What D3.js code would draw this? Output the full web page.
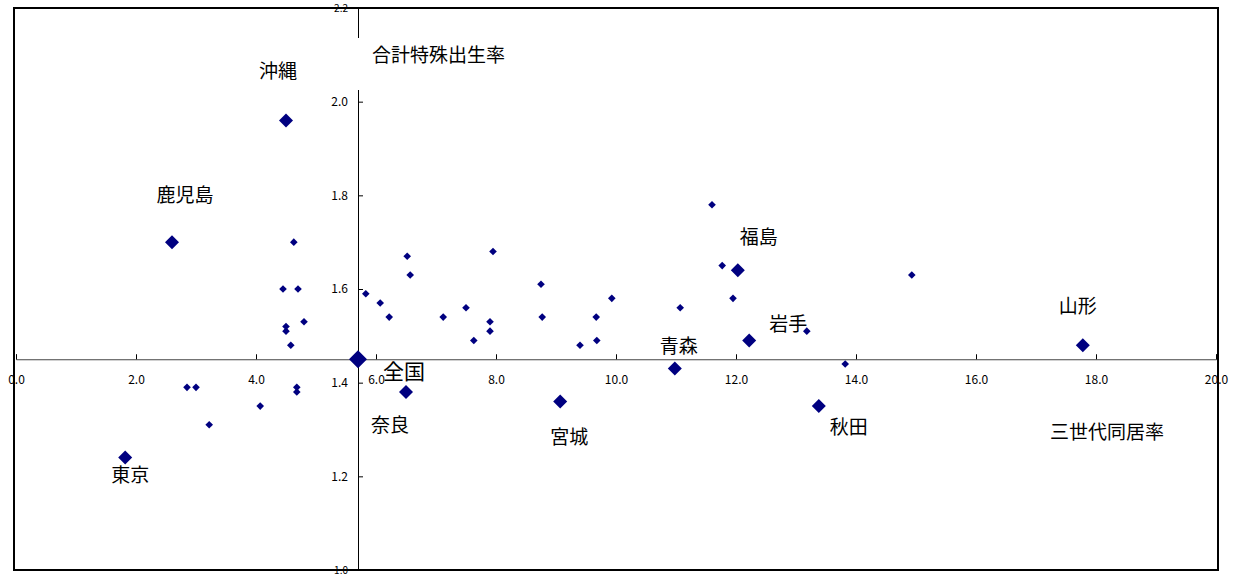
<!DOCTYPE html><html><head><meta charset="utf-8"><script src="https://cdn.jsdelivr.net/npm/d3@7"></script>
<style>body{margin:0;background:#fff}text{font-family:"Noto Sans CJK JP",sans-serif}</style></head><body><svg id="c" width="1235" height="575"></svg><script>
const xTicks=[0,2,4,6,8,10,12,14,16,18,20];
const yTicks=[1.0,1.2,1.4,1.6,1.8,2.0,2.2];
const bigNames=["沖縄","鹿児島","東京","全国","奈良","宮城","青森","福島","岩手","秋田","山形"];
const bigX=[4.5,2.6,1.82,5.7,6.5,9.07,10.98,12.03,12.22,13.38,17.78];
const bigY=[1.96,1.70,1.24,1.45,1.38,1.36,1.43,1.64,1.49,1.35,1.48];
const labDx=[-8,13,5,46,-16,9,4,21,39,30,-5];
const labDy=[-42,-40,24,20,40,43,-16,-26,-10,28,-32];
const smallX=[2.85,3.0,3.22,4.07,4.45,4.7,4.63,4.5,4.5,4.58,4.68,4.68,4.8,5.83,6.07,6.22,6.52,6.57,7.12,7.5,7.63,7.9,7.9,7.95,8.75,8.77,9.4,9.67,9.68,9.93,11.07,11.6,11.77,11.95,13.18,13.82,14.93];
const smallY=[1.39,1.39,1.31,1.35,1.60,1.60,1.70,1.52,1.51,1.48,1.39,1.38,1.53,1.59,1.57,1.54,1.67,1.63,1.54,1.56,1.49,1.53,1.51,1.68,1.61,1.54,1.48,1.54,1.49,1.58,1.56,1.78,1.65,1.58,1.51,1.44,1.63];
const cx=5.7, cy=1.45;
const svg=d3.select("#c");
const x=d3.scaleLinear().domain([0,20]).range([16,1216]);
const y=d3.scaleLinear().domain([1.0,2.2]).range([570,8]);
svg.append("rect").attr("x",14).attr("y",8).attr("width",1204).attr("height",562).attr("fill","none").attr("stroke","#000").attr("stroke-width",2);
const xa=svg.append("g").attr("transform",`translate(0,${y(cy)})`).call(d3.axisTop(x).tickValues(xTicks).tickSize(5).tickFormat(d3.format(".1f")));
xa.select(".domain").attr("stroke","#444");
xa.selectAll("text").attr("dy",0).attr("y",25).attr("font-size",12).attr("font-family","Liberation Sans");
const ya=svg.append("g").attr("transform",`translate(${x(cx)},0)`).call(d3.axisLeft(y).tickValues(yTicks).tickSize(-5).tickFormat(d3.format(".1f")));
ya.select(".domain").attr("stroke","#000");
ya.selectAll("text").attr("x",-10).attr("font-size",12).attr("font-family","Liberation Sans");
ya.selectAll("text").filter(d=>d==2.2||d==1.0).attr("font-size",10);
const dia=r=>`M0,${-r}L${r},0L0,${r}L${-r},0Z`;
svg.selectAll(".s").data(smallX).join("path").attr("d",dia(3.8)).attr("transform",(d,i)=>`translate(${x(d)},${y(smallY[i])})`).attr("fill","#000080");
svg.selectAll(".b").data(bigX).join("path").attr("d",(d,i)=>dia(i==3?9:7)).attr("transform",(d,i)=>`translate(${x(d)},${y(bigY[i])})`).attr("fill","#000080");
svg.selectAll(".l").data(bigNames).join("text").attr("x",(d,i)=>x(bigX[i])+labDx[i]).attr("y",(d,i)=>y(bigY[i])+labDy[i]).attr("text-anchor","middle").attr("font-size",(d,i)=>i==3?21:19).text(d=>d);
svg.append("text").attr("x",372).attr("y",62).attr("font-size",19).text("合計特殊出生率");
svg.append("text").attr("x",1050).attr("y",439).attr("font-size",19).text("三世代同居率");
svg.append("rect").attr("x",352).attr("y",38).attr("width",12).attr("height",52).attr("fill","#fff");
</script></body></html>
